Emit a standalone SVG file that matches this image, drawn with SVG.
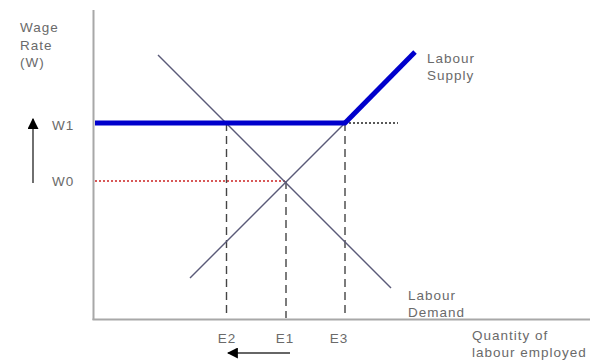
<svg xmlns="http://www.w3.org/2000/svg" width="590" height="361" viewBox="0 0 590 361">
<defs>
<style>
text{font-family:"Liberation Sans",Arial,sans-serif;font-size:13.5px;fill:#6a6a6a;letter-spacing:1px}
.axis{stroke:#a8a8a8;stroke-width:2;fill:none}
.curve{stroke:#5a5a78;stroke-width:1.4;fill:none}
.thick{stroke:#0000cc;stroke-width:5;fill:none}
.dash{stroke:#444;stroke-width:1.4;stroke-dasharray:8 5;fill:none}
.dotk{stroke:#222;stroke-width:1.3;stroke-dasharray:2 2;fill:none}
.dotr{stroke:#cc2222;stroke-width:1.3;stroke-dasharray:2 2;fill:none}
.arr{stroke:#333;stroke-width:1.4;fill:none}
</style>
<marker id="ah" viewBox="0 0 10 10" refX="9" refY="5" markerWidth="11" markerHeight="11" markerUnits="userSpaceOnUse" orient="auto">
<path d="M0,0 L10,5 L0,10 z" fill="#000"/>
</marker>
</defs>
<rect width="590" height="361" fill="#fff"/>
<g id="axes">
<line class="axis" x1="93.5" y1="10" x2="93.5" y2="320"/>
<line class="axis" x1="92.5" y1="319.5" x2="590" y2="319.5"/>
</g>
<g id="connectors">
<line class="dotr" x1="95" y1="181" x2="285" y2="181"/>
<line class="dotk" x1="345" y1="123" x2="398" y2="123"/>
<line class="dash" x1="226.5" y1="123" x2="226.5" y2="318"/>
<line class="dash" x1="286" y1="181" x2="286" y2="318"/>
<line class="dash" x1="345" y1="123" x2="345" y2="318"/>
<line class="arr" x1="33" y1="183" x2="33" y2="119" marker-end="url(#ah)"/>
<line class="arr" x1="290" y1="353" x2="228" y2="353" marker-end="url(#ah)"/>
</g>
<g id="demand">
<line class="curve" x1="158" y1="55" x2="391" y2="288"/>
<text x="408" y="300">Labour</text>
<text x="408" y="317">Demand</text>
</g>
<g id="supply">
<line class="curve" x1="190" y1="278" x2="345" y2="123"/>
<line class="thick" x1="95" y1="123" x2="345" y2="123"/>
<line class="thick" x1="344" y1="124" x2="415" y2="52"/>
<text x="427" y="63">Labour</text>
<text x="427" y="80">Supply</text>
</g>
<g id="y-label">
<text x="20" y="32">Wage</text>
<text x="20" y="50">Rate</text>
<text x="20" y="67">(W)</text>
<text x="52" y="130">W1</text>
<text x="52" y="186">W0</text>
</g>
<g id="x-label">
<text x="227" y="343" text-anchor="middle">E2</text>
<text x="285" y="343" text-anchor="middle">E1</text>
<text x="339" y="343" text-anchor="middle">E3</text>
<text x="472" y="340">Quantity of</text>
<text x="472" y="357">labour employed</text>
</g>
</svg>
